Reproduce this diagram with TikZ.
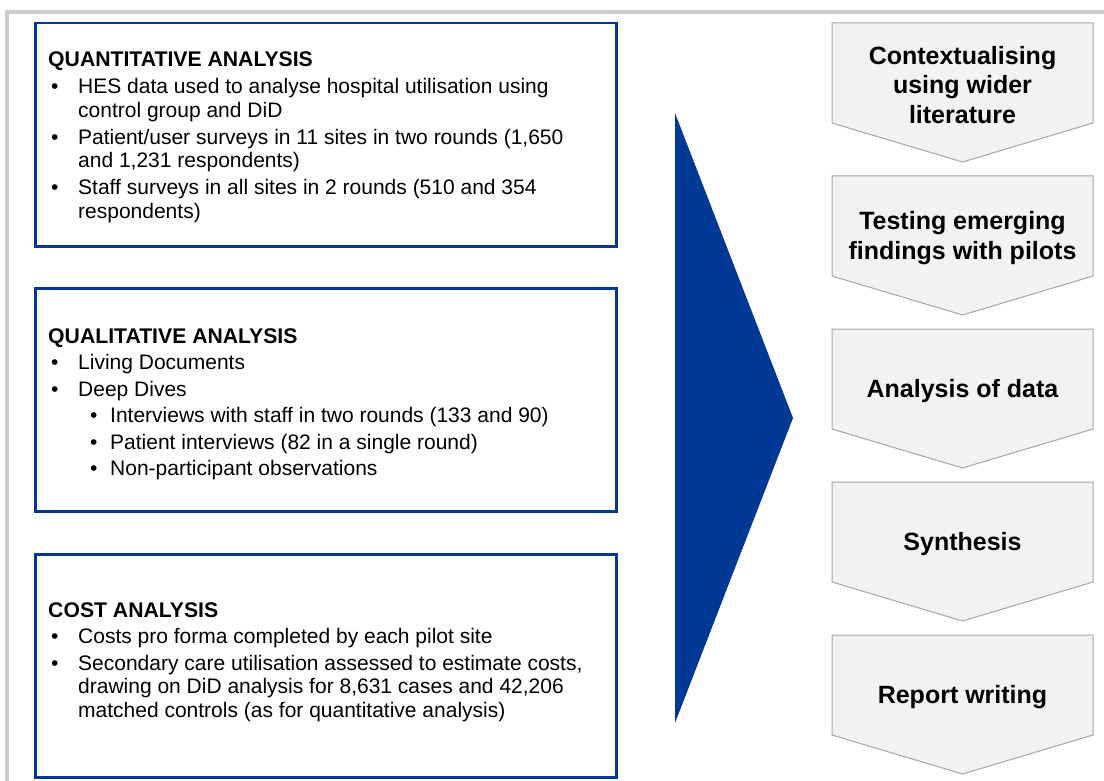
\documentclass[tikz,border=0pt]{standalone}
\usepackage{fontspec}
\setmainfont{Liberation Sans}

\definecolor{boxblue}{RGB}{0,56,150}
\definecolor{chevfill}{RGB}{242,242,242}
\definecolor{chevline}{RGB}{166,166,166}
\definecolor{framegray}{RGB}{204,204,204}

% type sizes for the analysis boxes and the stage labels
\newcommand\bodysize{\fontsize{21}{23.5}\selectfont}
\newcommand\headsize{\fontsize{21.2}{23.5}\selectfont\bfseries}
\newcommand\chevsize{\fontsize{25}{29.5}\selectfont\bfseries}
% first-level and second-level bullet items (lines broken with \newline)
\newcommand\topitem[1]{\par\hangindent=30pt\hangafter=1\noindent
  \makebox[30pt][l]{\hspace{3pt}\textbullet}#1}
\newcommand\nesteditem[1]{\par\hangindent=62pt\hangafter=1\noindent
  \hspace{42pt}\makebox[20pt][l]{\textbullet}#1}

\tikzset{
  analysisbox/.style={draw=boxblue, line width=2.5pt, fill=white,
    anchor=north west, inner sep=0pt, minimum width=581pt, minimum height=223pt},
  boxtext/.style={anchor=base west, inner sep=0pt},
  stage/.style={fill=chevfill, draw=chevline, line width=1pt},
  stagetext/.style={align=center, inner sep=0pt, font=\chevsize},
  bigarrow/.style={fill=boxblue, draw=none},
}

\begin{document}
\begin{tikzpicture}[x=1pt, y=-1pt]
\useasboundingbox (0,0) rectangle (1104,781);

% outer frame
\draw[framegray, line width=3.5pt] (7,790) -- (7,12) -- (1110,12);

% analysis boxes
\node[analysisbox] (quant) at (34,22) {};
\node[analysisbox] (qual) at (34,287) {};
\node[analysisbox] (cost) at (34,553) {};

\node[boxtext] (quanttext) at (48,67) {\begin{minipage}[t]{560pt}
  \parskip=3.5pt
  {\headsize QUANTITATIVE ANALYSIS}\par\bodysize
  \topitem{HES data used to analyse hospital utilisation using\newline control group and DiD}
  \topitem{Patient/user surveys in 11 sites in two rounds (1,650\newline and 1,231 respondents)}
  \topitem{Staff surveys in all sites in 2 rounds (510 and 354\newline respondents)}
\end{minipage}};

\node[boxtext] (qualtext) at (48,343) {\begin{minipage}[t]{560pt}
  \parskip=3pt
  {\headsize QUALITATIVE ANALYSIS}\par\bodysize
  \topitem{Living Documents}
  \topitem{Deep Dives}
  \nesteditem{Interviews with staff in two rounds (133 and 90)}
  \nesteditem{Patient interviews (82 in a single round)}
  \nesteditem{Non-participant observations}
\end{minipage}};

\node[boxtext] (costtext) at (48,617) {\begin{minipage}[t]{560pt}
  \parskip=3pt
  {\headsize COST ANALYSIS}\par\bodysize
  \topitem{Costs pro forma completed by each pilot site}
  \topitem{Secondary care utilisation assessed to estimate costs,\newline drawing on DiD analysis for 8,631 cases and 42,206\newline matched controls (as for quantitative analysis)}
\end{minipage}};

% large arrow pointing to the stages
\fill[bigarrow] (675,113) -- (793,418) -- (675,723) -- cycle;

% stages of the work, each a downward chevron
\foreach \t/\name/\label in {
    23/s1/{Contextualising\\using wider\\literature},
    176/s2/{Testing emerging\\findings with pilots},
    329/s3/{Analysis of data},
    482/s4/{Synthesis},
    635/s5/{Report writing}} {
  \draw[stage] (832,\t) -- (1093,\t) -- (1093,\t+100) -- (962.5,\t+139)
    -- (832,\t+100) -- cycle;
  \node[stagetext] (\name) at (962.5,\t+62) {\label};
}
\end{tikzpicture}
\end{document}
